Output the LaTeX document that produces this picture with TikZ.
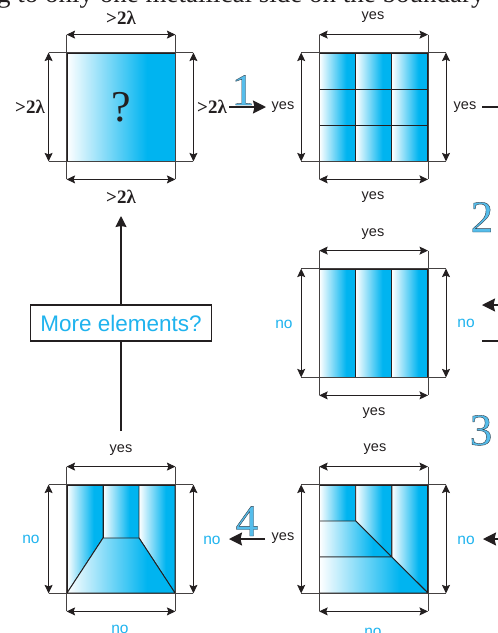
\documentclass[tikz,border=0pt]{standalone}
\usepackage{fontspec}
\setmainfont{Liberation Serif}
\setsansfont{Liberation Sans}
\usetikzlibrary{arrows.meta}
\definecolor{ink}{HTML}{231F20}
\definecolor{cyanb}{HTML}{00B4F0}
\definecolor{cyant}{HTML}{1FB3EE}
\definecolor{numfill}{HTML}{55BDEB}
\pgfdeclarehorizontalshading{cell}{100bp}{color(0bp)=(white); color(25bp)=(white); color(62bp)=(cyanb); color(75bp)=(cyanb); color(100bp)=(cyanb)}
\newcommand{\outlined}[1]{\special{pdf:code 2 Tr 0.4 w 0.2 0.25 0.3 RG}#1\special{pdf:code 0 Tr}}
\tikzset{
  boxsq/.style={rectangle,minimum size=108pt,inner sep=0pt,draw=ink,line width=.8pt},
  cellf/.style={shading=cell,draw=ink,line width=.9pt},
  extl/.style={draw=ink!85,line width=.9pt},
  dimarr/.style={draw=ink,line width=.9pt,{Stealth[length=8.5pt,width=8pt,inset=1.5pt]}-{Stealth[length=8.5pt,width=8pt,inset=1.5pt]}},
  bigarr/.style={draw=ink,line width=1.5pt,-{Stealth[length=13pt,width=13pt,inset=1.5pt]}},
  plainl/.style={draw=ink,line width=1.2pt},
  upl/.style={draw=ink,line width=1.2pt,-{Stealth[length=11pt,width=11pt,inset=1pt]}},
  lam/.style={font=\rmfamily\bfseries\fontsize{19}{22}\selectfont,text=ink,inner sep=1pt},
  yes/.style={font=\sffamily\fontsize{14.5}{16}\selectfont,text=ink,inner sep=1pt,yshift=-2.5pt},
  nol/.style={font=\sffamily\fontsize{15.5}{17}\selectfont,text=cyant,inner sep=1pt,yshift=-1pt},
  numl/.style={font=\rmfamily\fontsize{45}{47}\selectfont,text=numfill,anchor=base,inner sep=0pt},
}
\newcommand{\dimset}[1]{%
  \draw[extl] ([yshift=18pt]#1.north west) -- ([yshift=-18pt]#1.south west);
  \draw[extl] ([yshift=18pt]#1.north east) -- ([yshift=-18pt]#1.south east);
  \draw[extl] ([xshift=-18pt]#1.north west) -- ([xshift=18pt]#1.north east);
  \draw[extl] ([xshift=-18pt]#1.south west) -- ([xshift=18pt]#1.south east);
  \draw[dimarr] ([yshift=18pt]#1.north west) -- ([yshift=18pt]#1.north east);
  \draw[dimarr] ([yshift=-18pt]#1.south west) -- ([yshift=-18pt]#1.south east);
  \draw[dimarr] ([xshift=-18pt]#1.north west) -- ([xshift=-18pt]#1.south west);
  \draw[dimarr] ([xshift=18pt]#1.north east) -- ([xshift=18pt]#1.south east);
}
\begin{document}
\begin{tikzpicture}[x=1pt,y=-1pt]
\useasboundingbox (0,0) rectangle (498,633);
\clip (0,0) rectangle (498,633);
\node[anchor=base west,inner sep=0pt,font=\rmfamily\fontsize{27}{29}\selectfont,text=ink] (head) at (-3,2) {g to only one metallical side on the boundary};

% square A
\node[boxsq,shading=cell,font=\rmfamily\fontsize{44}{46}\selectfont,text=ink] (sqa) at (121,107) {?};
\dimset{sqa}
\node[lam] (at) at (121,18) {>2λ};
\node[lam] (ab) at (121,197) {>2λ};
\node[lam] (al) at (30,107) {>2λ};
\node[lam] (ar) at (212,107) {>2λ};

% square B
\foreach \x in {319.5,355.7,391.8}{\foreach \y in {53,89,125}{
  \path[cellf] (\x,\y) rectangle ++(36.1,36);}}
\node[boxsq] (sqb) at (373.6,107) {};
\dimset{sqb}
\node[yes] (bt) at (373,15) {yes};
\node[yes] (bb) at (373,195) {yes};
\node[yes] (bl) at (283,105) {yes};
\node[yes] (br) at (465,105) {yes};

% square C
\foreach \x in {319.5,355.7,391.8}{\path[cellf] (\x,269) rectangle ++(36.1,108);}
\node[boxsq] (sqc) at (373.6,323) {};
\dimset{sqc}
\node[yes] (ct) at (373,232) {yes};
\node[yes] (cb) at (374,411) {yes};
\node[nol] (cl) at (284,323) {no};
\node[nol] (cr) at (466,322) {no};

% square D
\path[cellf] (319.5,485)--(355.7,485)--(355.7,521)--(319.5,521)--cycle;
\path[cellf] (355.7,485)--(391.8,485)--(391.8,557)--(355.7,521)--cycle;
\path[cellf] (391.8,485)--(427.9,485)--(427.9,593)--(391.8,557)--cycle;
\path[cellf] (319.5,521)--(355.7,521)--(391.8,557)--(319.5,557)--cycle;
\path[cellf] (319.5,557)--(391.8,557)--(427.9,593)--(319.5,593)--cycle;
\node[boxsq] (sqd) at (373.6,539) {};
\dimset{sqd}
\node[yes] (dt) at (375,447) {yes};
\node[nol] (db) at (373,631) {no};
\node[yes] (dl) at (283,536) {yes};
\node[nol] (dr) at (466,539) {no};

% square E
\path[cellf] (67,485)--(103,485)--(103,538)--(67,593)--cycle;
\path[cellf] (103,485)--(139,485)--(139,538)--(103,538)--cycle;
\path[cellf] (139,485)--(175,485)--(175,593)--(139,538)--cycle;
\path[cellf] (103,538)--(139,538)--(175,593)--(67,593)--cycle;
\node[boxsq] (sqe) at (121,539) {};
\dimset{sqe}
\node[yes] (et) at (121,448) {yes};
\node[nol] (eb) at (120,628) {no};
\node[nol] (el) at (31,538) {no};
\node[nol] (er) at (212,539) {no};

% decision box
\node[draw=ink,line width=1.5pt,fill=white,minimum width=181pt,minimum height=36pt,inner sep=0pt,
      font=\sffamily\fontsize{22.5}{24}\selectfont,text=cyant] (more) at (121,323) {More elements?};
\coordinate (uptip) at (121,216);
\coordinate (etail) at (121,431);
\draw[plainl] (etail) -- (more.south);
\draw[upl] (more.north) -- (uptip);

% step connectors
\coordinate (r1) at (498,107);
\coordinate (r1a) at (482,107);
\coordinate (r2a) at (498,305);
\coordinate (r2b) at (482,305);
\coordinate (r3a) at (498,341);
\coordinate (r3b) at (482,341);
\coordinate (r4a) at (498,539);
\coordinate (r4b) at (483,539);
\coordinate (a1s) at (229,107);
\coordinate (a1e) at (266,107);
\coordinate (a4s) at (265,539);
\coordinate (a4e) at (229,539);
\node[numl] (n1) at (243,105) {\outlined{1}};
\node[numl] (n2) at (482,232) {\outlined{2}};
\node[numl] (n3) at (481,445) {\outlined{3}};
\node[numl] (n4) at (247,536) {\outlined{4}};
\draw[bigarr] (a1s) -- (a1e);
\draw[bigarr] (a4s) -- (a4e);
\draw[plainl] (r1a) -- (r1);
\draw[bigarr,line width=1.2pt] (r2a) -- (r2b);
\draw[plainl] (r3a) -- (r3b);
\draw[bigarr,line width=1.2pt] (r4a) -- (r4b);
\end{tikzpicture}
\end{document}
